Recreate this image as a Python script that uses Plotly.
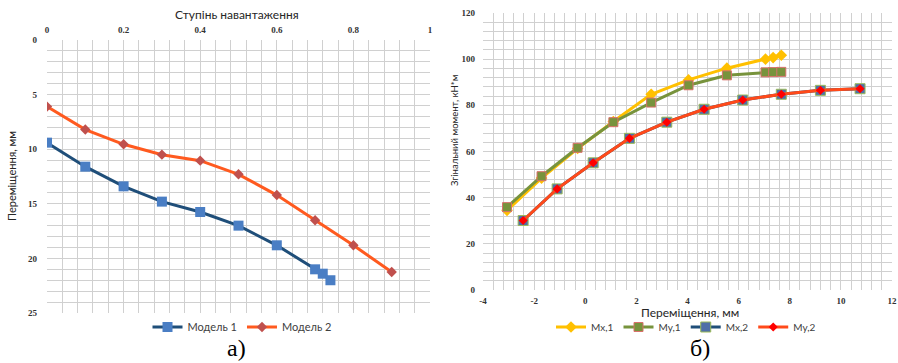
import plotly.graph_objects as go

# ---- Left chart data ----
load_m1 = [0, 0.1, 0.2, 0.3, 0.4, 0.5, 0.6, 0.7, 0.72, 0.74]
disp_m1 = [9.4, 11.6, 13.4, 14.8, 15.75, 17.0, 18.8, 21.0, 21.4, 22.0]
load_m2 = [0, 0.1, 0.2, 0.3, 0.4, 0.5, 0.6, 0.7, 0.8, 0.9]
disp_m2 = [6.1, 8.2, 9.55, 10.5, 11.05, 12.3, 14.2, 16.5, 18.8, 21.25]
left_xticks = [0, 0.2, 0.4, 0.6, 0.8, 1]
left_yticks = [0, 5, 10, 15, 20, 25]

# ---- Right chart data ----
x_s1 = [-3.06, -1.71, -0.30, 1.10, 2.58, 4.04, 5.54, 7.05, 7.35, 7.67]
mx_1 = [34.5, 48.5, 61.3, 73.0, 84.8, 91.0, 96.1, 100.0, 100.7, 101.7]
my_1 = [35.9, 49.3, 61.6, 72.7, 81.2, 88.7, 93.0, 94.3, 94.4, 94.5]
x_s2 = [-2.43, -1.10, 0.31, 1.73, 3.19, 4.65, 6.16, 7.67, 9.20, 10.75]
mx_2 = [30.1, 43.8, 55.1, 65.7, 72.7, 78.3, 82.3, 84.8, 86.5, 87.2]
my_2 = [30.1, 43.8, 55.1, 65.7, 72.7, 78.3, 82.3, 84.8, 86.5, 87.2]
right_xticks = [-4, -2, 0, 2, 4, 6, 8, 10, 12]
right_yticks = [0, 20, 40, 60, 80, 100, 120]

W, H = 898, 363
def px(x):
    return x / W
def py(y):
    return 1 - y / H

GRID = "#D0D0D0"
TICKFONT = dict(family="Liberation Serif", size=9, color="#333333", weight="bold")
SANS = "Lato"

fig = go.Figure()

fig.add_trace(go.Scatter(x=load_m1, y=disp_m1, mode="lines+markers", name="Модель 1",
                         line=dict(color="#1F4E79", width=3),
                         marker=dict(symbol="square", size=10, color="#4A7EC4"),
                         xaxis="x", yaxis="y", legend="legend"))
fig.add_trace(go.Scatter(x=load_m2, y=disp_m2, mode="lines+markers", name="Модель 2",
                         line=dict(color="#FF5A1F", width=3),
                         marker=dict(symbol="diamond", size=8, color="#C0504D"),
                         xaxis="x", yaxis="y", legend="legend"))

fig.add_trace(go.Scatter(x=x_s1, y=mx_1, mode="lines+markers", name="Mx,1",
                         line=dict(color="#FFC000", width=3),
                         marker=dict(symbol="diamond", size=9, color="#FFC000"),
                         xaxis="x2", yaxis="y2", legend="legend2"))
fig.add_trace(go.Scatter(x=x_s1, y=my_1, mode="lines+markers", name="My,1",
                         line=dict(color="#77933C", width=3),
                         marker=dict(symbol="square", size=9, color="#77933C",
                                     line=dict(color="#D9706B", width=1)),
                         xaxis="x2", yaxis="y2", legend="legend2"))
fig.add_trace(go.Scatter(x=x_s2, y=mx_2, mode="lines+markers", name="Mx,2",
                         line=dict(color="#1F4E79", width=3),
                         marker=dict(symbol="square", size=10, color="#4F6FA8",
                                     line=dict(color="#9BBB59", width=1)),
                         xaxis="x2", yaxis="y2", legend="legend2"))
fig.add_trace(go.Scatter(x=x_s2, y=my_2, mode="lines+markers", name="My,2",
                         line=dict(color="#FF4A1A", width=3),
                         marker=dict(symbol="diamond", size=7, color="#FF0000"),
                         xaxis="x2", yaxis="y2", legend="legend2"))

axis_common = dict(showgrid=True, gridcolor=GRID, gridwidth=1, zeroline=False,
                   showline=False, ticks="", tickfont=TICKFONT, automargin=False)

def tick_text(vals):
    return [("%g" % v).replace("\u2212", "-") for v in vals]

fig.update_layout(
    width=W, height=H, margin=dict(l=0, r=0, t=0, b=0, autoexpand=False),
    paper_bgcolor="white", plot_bgcolor="white",
    xaxis=dict(domain=[px(47), px(430)], range=[0, 1], side="top", anchor="y",
               tickvals=left_xticks, ticktext=tick_text(left_xticks), ticklabelstandoff=4,
               minor=dict(dtick=0.04, showgrid=True, gridcolor=GRID), **axis_common),
    yaxis=dict(domain=[py(313), py(40)], range=[25, 0], anchor="x",
               tickvals=left_yticks, ticktext=tick_text(left_yticks), ticklabelstandoff=9,
               minor=dict(dtick=1, showgrid=True, gridcolor=GRID), **axis_common),
    xaxis2=dict(domain=[px(483), px(892)], range=[-4, 12], anchor="y2",
                tickvals=right_xticks, ticktext=tick_text(right_xticks), ticklabelstandoff=4,
                minor=dict(dtick=0.4, showgrid=True, gridcolor=GRID), **axis_common),
    yaxis2=dict(domain=[py(290), py(13)], range=[0, 120], anchor="x2",
                tickvals=right_yticks, ticktext=tick_text(right_yticks), ticklabelstandoff=7,
                minor=dict(dtick=4, showgrid=True, gridcolor=GRID), **axis_common),
    legend=dict(orientation="h", x=px(242), xanchor="center", y=py(327), yanchor="middle",
                font=dict(family=SANS, size=11, color="#404040"), bgcolor="rgba(0,0,0,0)",
                itemwidth=30, tracegroupgap=0),
    legend2=dict(orientation="h", x=px(686), xanchor="center", y=py(327), yanchor="middle",
                 font=dict(family=SANS, size=10, color="#404040"), bgcolor="rgba(0,0,0,0)",
                 itemwidth=30, tracegroupgap=0),
    showlegend=True,
)

annotations = [
    dict(text="Ступінь навантаження", x=px(237), y=py(15), font=dict(family=SANS, size=12, color="#262626")),
    dict(text="Переміщення, мм", x=px(11), y=py(176), textangle=-90, font=dict(family=SANS, size=11, color="#262626")),
    dict(text="Згінальний момент, кН*м", x=px(454), y=py(130), textangle=-90, font=dict(family=SANS, size=9.5, color="#262626")),
    dict(text="Переміщення, мм", x=px(690), y=py(312), font=dict(family=SANS, size=12, color="#262626")),
    dict(text="а)", x=px(237), y=py(348), font=dict(family="Liberation Serif", size=24, color="black")),
    dict(text="б)", x=px(700), y=py(348), font=dict(family="Liberation Serif", size=24, color="black")),
]
for a in annotations:
    fig.add_annotation(xref="paper", yref="paper", showarrow=False,
                       xanchor="center", yanchor="middle", **a)

fig.write_html("out.html", config={"displayModeBar": False},
               post_script="document.body.style.margin='0';document.body.style.overflow='hidden';")
